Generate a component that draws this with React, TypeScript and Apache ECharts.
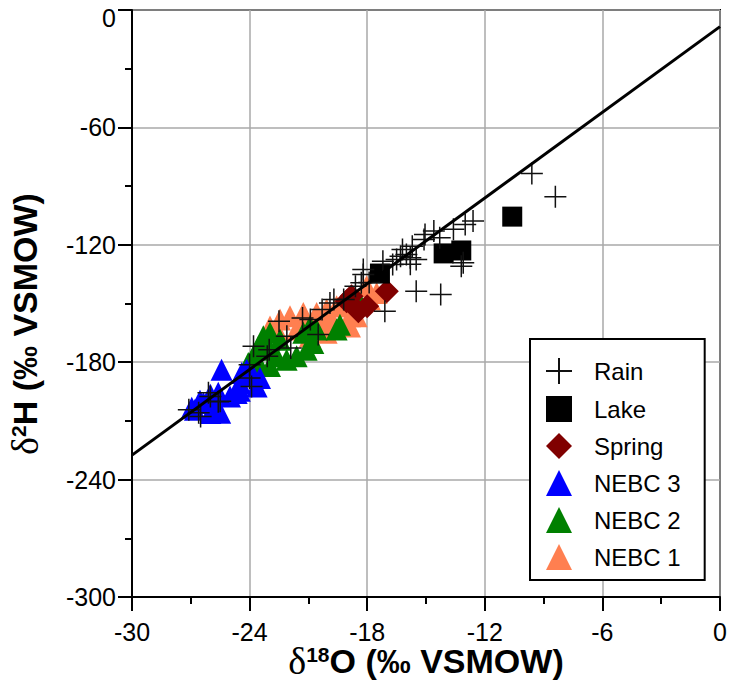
import React, { useEffect, useRef } from "react";
import * as echarts from "echarts";

// δ18O, δ2H pairs
const rainData: number[][] = [
  [-9.6, -83.5], [-8.4, -95.4],
  [-12.6, -107.9], [-13.0, -109.6], [-13.6, -112.1], [-14.6, -113.0], [-15.05, -114.7],
  [-14.3, -116.4], [-15.1, -117.3], [-15.7, -120.7], [-16.2, -122.4], [-16.0, -124.9],
  [-15.8, -126.6], [-15.5, -127.5], [-16.5, -127.5], [-16.3, -125.8], [-17.2, -128.4],
  [-13.2, -130.9], [-13.1, -129.2], [-16.7, -130.1], [-15.8, -130.0], [-18.2, -132.6],
  [-18.2, -135.2], [-17.9, -139.3], [-18.3, -139.4], [-18.6, -141.2], [-15.5, -143.7],
  [-14.25, -145.4], [-17.1, -154.0], [-19.2, -148.0], [-19.7, -148.0], [-19.9, -149.7],
  [-20.3, -153.1], [-20.5, -165.9], [-21.3, -157.4], [-20.9, -158.2], [-22.5, -159.1],
  [-22.1, -166.8], [-21.9, -172.7], [-23.0, -173.6], [-23.1, -177.0], [-23.8, -171.9],
  [-24.0, -181.3], [-24.0, -188.1], [-23.9, -192.4], [-26.0, -197.5], [-25.5, -200.0],
  [-27.1, -204.3], [-26.6, -205.8], [-26.1, -195.6], [-25.6, -200.2], [-26.5, -207.7],
];

const lakeData: number[][] = [
  [-17.35, -134.7], [-14.1, -124.4], [-13.2, -122.9], [-10.6, -105.6],
];

const springData: number[][] = [
  [-17.0, -143.7], [-18.45, -154.0], [-18.0, -151.4], [-18.8, -146.3], [-19.05, -148.8],
];

const nebc3Data: number[][] = [
  [-25.43, -183.8], [-26.36, -200.9], [-26.79, -204.3], [-25.77, -202.6], [-25.5, -205.8],
  [-24.66, -195.8], [-24.49, -190.6], [-23.64, -192.4], [-23.81, -187.2], [-23.47, -188.1],
  [-24.4, -185.5], [-24.15, -183.8], [-25.0, -197.5], [-26.0, -206.0], [-25.6, -195.6],
  [-26.53, -199.7], [-26.95, -203.3], [-24.5, -194.6], [-26.0, -196.6],
];

const nebc2Data: number[][] = [
  [-23.3, -166.8], [-23.55, -171.9], [-23.8, -177.0], [-24.07, -180.4], [-22.96, -165.0],
  [-22.45, -168.5], [-22.62, -177.0], [-22.11, -178.7], [-21.6, -177.0], [-21.09, -173.6],
  [-20.75, -170.2], [-21.26, -165.0], [-20.58, -163.3], [-19.39, -160.8], [-19.56, -163.3],
  [-20.92, -161.7], [-18.37, -149.7], [-22.96, -182.0], [-23.55, -180.4], [-23.13, -173.6],
];

const nebc1Data: number[][] = [
  [-22.45, -158.2], [-21.94, -156.5], [-21.26, -154.8], [-20.58, -154.8], [-20.07, -153.1],
  [-19.56, -151.4], [-19.05, -151.4], [-18.88, -161.7], [-20.07, -165.0], [-20.92, -166.8],
  [-21.6, -163.3], [-22.62, -163.3], [-17.52, -144.6], [-17.86, -148.0], [-18.54, -156.5],
  [-18.03, -141.2], [-20.58, -159.9], [-22.96, -161.7], [-19.9, -158.2], [-21.26, -161.7],
  [-18.88, -156.5],
];

// meteoric water line endpoints
const lmwlX = [-30, 0];
const lmwlY = [-227.5, -8.5];

const legendNames = ["Rain", "Lake", "Spring", "NEBC 3", "NEBC 2", "NEBC 1"];
const xTitle = "{d|δ}{s|18}{m|O (‰ VSMOW)}";
const yTitle = "{d|δ}{s|2}{m|H (‰ VSMOW)}";

const FONT = "Liberation Sans, Arial, sans-serif";
const SERIF = "Liberation Serif, Times New Roman, serif";
const CROSS = "path://M0 10L20 10M10 0L10 20";

export default function App() {
  const ref = useRef<HTMLDivElement>(null);
  useEffect(() => {
    if (!ref.current) return;
    const chart = echarts.init(ref.current, undefined, { renderer: "svg" });
    const titleRich = {
      d: { fontSize: 38, fontWeight: "normal", fill: "#000", fontFamily: SERIF, lineHeight: 34 },
      m: { fontSize: 34, fontWeight: "bold", fill: "#000", fontFamily: FONT, lineHeight: 34 },
      s: { fontSize: 21, fontWeight: "bold", fill: "#000", fontFamily: FONT, verticalAlign: "top", lineHeight: 34, padding: [0, 0, 12, 0] },
    };
    const axisCommon = {
      type: "value" as const,
      axisLine: { onZero: false, lineStyle: { color: "#000", width: 2 } },
      axisTick: { length: 14, lineStyle: { color: "#000", width: 2 } },
      minorTick: { show: true, splitNumber: 2, length: 7, lineStyle: { color: "#000", width: 2 } },
      splitLine: { show: true, lineStyle: { color: "#a8a8a8", width: 1.5 } },
      axisLabel: { fontSize: 25, color: "#000", fontFamily: FONT },
    };
    chart.setOption({
      animation: false,
      backgroundColor: "#fff",
      grid: {
        left: 132, right: 12, top: 10, bottom: 84,
        outerBoundsMode: "none", containLabel: false,
        show: true, borderColor: "#000", borderWidth: 2, backgroundColor: "transparent",
      },
      xAxis: {
        ...axisCommon,
        min: -30, max: 0, interval: 6,
        axisLabel: { ...axisCommon.axisLabel, margin: 22 },
      },
      yAxis: {
        ...axisCommon,
        min: -300, max: 0, interval: 60,
        axisLabel: {
          ...axisCommon.axisLabel, margin: 16,
          formatter: (v: number) => (v === 0 ? "{top|0}" : String(v)),
          rich: { top: { fontSize: 25, color: "#000", fontFamily: FONT, padding: [16, 0, 0, 0] } },
        },
      },
      graphic: [
        {
          type: "text", x: 426, y: 661, z: 20,
          style: { text: xTitle, rich: titleRich, align: "center", verticalAlign: "middle", fill: "#000" },
        },
        {
          type: "text", x: 25, y: 324, rotation: Math.PI / 2, z: 20,
          style: { text: yTitle, rich: titleRich, align: "center", verticalAlign: "middle", fill: "#000" },
        },
      ],
      legend: {
        data: legendNames,
        orient: "vertical",
        left: 530, top: 339,
        backgroundColor: "#fff",
        borderColor: "#000", borderWidth: 2, borderRadius: 0,
        padding: [18, 24, 10, 15],
        itemWidth: 26, itemHeight: 26, itemGap: 11,
        textStyle: { fontSize: 24, color: "#000", fontFamily: FONT, lineHeight: 26, padding: [0, 0, 0, 17] },
        z: 10,
      },
      series: [
        { name: "NEBC 1", type: "scatter", data: nebc1Data, symbol: "triangle", symbolSize: 22, itemStyle: { color: "#ff7f50", opacity: 1 } },
        { name: "NEBC 2", type: "scatter", data: nebc2Data, symbol: "triangle", symbolSize: 22, itemStyle: { color: "#008000", opacity: 1 } },
        { name: "NEBC 3", type: "scatter", data: nebc3Data, symbol: "triangle", symbolSize: 22, itemStyle: { color: "#0000ff", opacity: 1 } },
        { name: "Spring", type: "scatter", data: springData, symbol: "diamond", symbolSize: 24, itemStyle: { color: "#800000", opacity: 1 } },
        { name: "Lake", type: "scatter", data: lakeData, symbol: "rect", symbolSize: 20, itemStyle: { color: "#000", opacity: 1 } },
        { name: "Rain", type: "scatter", data: rainData, symbol: CROSS, symbolSize: 22, itemStyle: { color: "#000", borderColor: "#111", borderWidth: 1.5, opacity: 1 } },
        {
          name: "LMWL", type: "line", data: lmwlX.map((x, i) => [x, lmwlY[i]]),
          symbol: "none", lineStyle: { color: "#000", width: 3 }, z: 5, silent: true,
        },
      ],
    });
    return () => chart.dispose();
  }, []);
  return <div ref={ref} style={{ position: "fixed", left: 0, top: 0, width: 732, height: 681 }} />;
}
